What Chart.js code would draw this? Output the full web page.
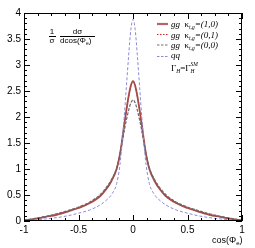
<!DOCTYPE html>
<html>
<head>
<meta charset="utf-8">
<script src="https://cdn.jsdelivr.net/npm/chart.js@4/dist/chart.umd.min.js"></script>
<style>
  html, body { margin: 0; padding: 0; background: #fff; }
</style>
</head>
<body>
<canvas id="chart" width="255" height="248"></canvas>
<script>
const cosPhi = [-1, -0.9, -0.8, -0.7, -0.6, -0.5, -0.4, -0.3, -0.25, -0.2, -0.15, -0.12, -0.1, -0.08, -0.06, -0.04, -0.02,
  0, 0.02, 0.04, 0.06, 0.08, 0.1, 0.12, 0.15, 0.2, 0.25, 0.3, 0.4, 0.5, 0.6, 0.7, 0.8, 0.9, 1];

const ggK10 = [0.01, 0.04, 0.08, 0.12, 0.18, 0.25, 0.34, 0.48, 0.6, 0.76, 1.0, 1.28, 1.55, 1.86, 2.14, 2.4, 2.6,
  2.69, 2.6, 2.4, 2.14, 1.86, 1.55, 1.28, 1.0, 0.76, 0.6, 0.48, 0.34, 0.25, 0.18, 0.12, 0.08, 0.04, 0.01];
const ggK01 = [0.01, 0.045, 0.085, 0.13, 0.19, 0.26, 0.35, 0.49, 0.61, 0.77, 1.01, 1.29, 1.55, 1.85, 2.13, 2.39, 2.59,
  2.68, 2.59, 2.39, 2.13, 1.85, 1.55, 1.29, 1.01, 0.77, 0.61, 0.49, 0.35, 0.26, 0.19, 0.13, 0.085, 0.045, 0.01];
const ggK00 = [0.01, 0.05, 0.09, 0.14, 0.2, 0.27, 0.36, 0.51, 0.63, 0.79, 1.02, 1.27, 1.5, 1.74, 1.95, 2.13, 2.27,
  2.33, 2.27, 2.13, 1.95, 1.74, 1.5, 1.27, 1.02, 0.79, 0.63, 0.51, 0.36, 0.27, 0.2, 0.14, 0.09, 0.05, 0.01];
const qq = [0, 0.02, 0.04, 0.065, 0.1, 0.15, 0.21, 0.31, 0.39, 0.5, 0.72, 1.08, 1.5, 2.02, 2.6, 3.18, 3.68,
  3.88, 3.68, 3.18, 2.6, 2.02, 1.5, 1.08, 0.72, 0.5, 0.39, 0.31, 0.21, 0.15, 0.1, 0.065, 0.04, 0.02, 0];

const xTicks = [-1, -0.5, 0, 0.5, 1];
const yTicks = [0, 0.5, 1, 1.5, 2, 2.5, 3, 3.5, 4];

const legendLabels = ["(1,0)", "(0,1)", "(0,0)"];

const toPoints = (vals) => cosPhi.map((c, i) => ({ x: c, y: vals[i] }));

// draws a list of [text, font, dy] pieces left to right
function drawPieces(ctx, x, y, pieces) {
  pieces.forEach(([text, font, dy]) => {
    ctx.font = font;
    ctx.fillText(text, x, y + (dy || 0));
    x += ctx.measureText(text).width;
  });
  return x;
}

const frameTicks = {
  id: "frameTicks",
  afterDraw(chart) {
    const { ctx, chartArea: a, scales } = chart;
    const x = scales.x, y = scales.y;
    ctx.save();
    ctx.strokeStyle = "#000";
    ctx.lineWidth = 1;
    ctx.strokeRect(a.left + 0.5, a.top + 0.5, a.right - a.left - 1, a.bottom - a.top - 1);

    ctx.beginPath();
    for (let i = 0; i <= 16; i++) {
      const px = Math.round(x.getPixelForValue(-1 + i * 0.125)) + 0.5;
      const len = i % 4 === 0 ? 6 : 3;
      ctx.moveTo(px, a.bottom); ctx.lineTo(px, a.bottom - len);
      ctx.moveTo(px, a.top); ctx.lineTo(px, a.top + len);
    }
    for (let i = 0; i <= 40; i++) {
      const py = Math.round(y.getPixelForValue(i * 0.1)) + 0.5;
      const len = i % 5 === 0 ? 6 : 3;
      ctx.moveTo(a.left, py); ctx.lineTo(a.left + len, py);
      ctx.moveTo(a.right, py); ctx.lineTo(a.right - len, py);
    }
    ctx.stroke();

    // y title as a fraction
    ctx.fillStyle = "#000";
    ctx.textBaseline = "alphabetic";
    ctx.textAlign = "center";
    ctx.font = "8px 'Liberation Sans'";
    ctx.fillText("1", 52, 34);
    ctx.fillText("σ", 52, 43);
    ctx.fillText("dσ", 77.5, 34);
    ctx.fillRect(49, 36, 7, 1);
    ctx.fillRect(60, 36, 35, 1);
    ctx.textAlign = "left";
    drawPieces(ctx, 60, 43, [["dcos(Φ", "8px 'Liberation Sans'"], ["e", "5px 'Liberation Sans'", 1.5], [")", "8px 'Liberation Sans'"]]);

    // x title
    ctx.textAlign = "left";
    drawPieces(ctx, 212, 243, [["cos(Φ", "9px 'Liberation Sans'"], ["e", "6px 'Liberation Sans'", 2], [")", "9px 'Liberation Sans'"]]);

    // legend
    const rows = [
      { yy: 24, color: "#b86464", width: 2.2, dash: [] },
      { yy: 34.5, color: "#cc2020", width: 1, dash: [1.5, 1.5] },
      { yy: 45, color: "#707070", width: 1, dash: [2.5, 1.5] },
      { yy: 56.5, color: "#8a8ad8", width: 1, dash: [2.5, 1.5] }
    ];
    rows.forEach((r, i) => {
      ctx.beginPath();
      ctx.strokeStyle = r.color;
      ctx.lineWidth = r.width;
      ctx.setLineDash(r.dash);
      ctx.moveTo(157, r.yy); ctx.lineTo(168, r.yy);
      ctx.stroke();
      ctx.setLineDash([]);
      ctx.fillStyle = "#000";
      if (i < 3) {
        drawPieces(ctx, 171, r.yy + 3, [
          ["gg", "italic 9px 'Liberation Serif'"],
          ["  κ", "9px 'Liberation Serif'"],
          ["t,g", "italic 5.5px 'Liberation Serif'", 2],
          ["=" + legendLabels[i], "italic 9px 'Liberation Serif'"]
        ]);
      } else {
        drawPieces(ctx, 171, r.yy + 1.5, [["qq", "italic 9px 'Liberation Serif'"]]);
      }
    });
    let gx = drawPieces(ctx, 171, 71, [
      ["Γ", "9px 'Liberation Serif'"],
      ["H", "italic 5.5px 'Liberation Serif'", 2],
      ["=Γ", "9px 'Liberation Serif'"]
    ]);
    ctx.font = "italic 5.5px 'Liberation Serif'";
    ctx.fillText("H", gx, 73);
    ctx.fillText("SM", gx, 66);
    ctx.restore();
  }
};

new Chart(document.getElementById("chart"), {
  type: "line",
  data: {
    datasets: [
      { label: "qq", data: toPoints(qq), borderColor: "#8a8ad8", borderWidth: 1, borderDash: [3, 2] },
      { label: "gg (0,0)", data: toPoints(ggK00), borderColor: "#6a6a6a", borderWidth: 1.2, borderDash: [3, 1.5] },
      { label: "gg (1,0)", data: toPoints(ggK10), borderColor: "#a84848", borderWidth: 1.8 },
      { label: "gg (0,1)", data: toPoints(ggK01), borderColor: "#cc1818", borderWidth: 1, borderDash: [1.5, 1.5] }
    ]
  },
  options: {
    responsive: false,
    animation: false,
    layout: { padding: { top: 13, right: 13, left: 0, bottom: 0 } },
    elements: { point: { radius: 0 }, line: { cubicInterpolationMode: "monotone", fill: false } },
    plugins: { legend: { display: false }, tooltip: { enabled: false } },
    scales: {
      x: {
        type: "linear",
        min: -1, max: 1,
        afterFit: (s) => { s.height = 27; },
        afterBuildTicks: (s) => { s.ticks = xTicks.map((v) => ({ value: v })); },
        grid: { display: false, drawTicks: false },
        border: { display: false },
        ticks: { padding: 3, color: "#000", font: { family: "Liberation Sans", size: 10 }, callback: (v) => String(v) }
      },
      y: {
        min: 0, max: 4,
        afterFit: (s) => { s.width = 24; },
        afterBuildTicks: (s) => { s.ticks = yTicks.map((v) => ({ value: v })); },
        grid: { display: false, drawTicks: false },
        border: { display: false },
        ticks: { padding: 3, color: "#000", font: { family: "Liberation Sans", size: 10 }, callback: (v) => String(v) }
      }
    }
  },
  plugins: [frameTicks]
});
</script>
</body>
</html>
